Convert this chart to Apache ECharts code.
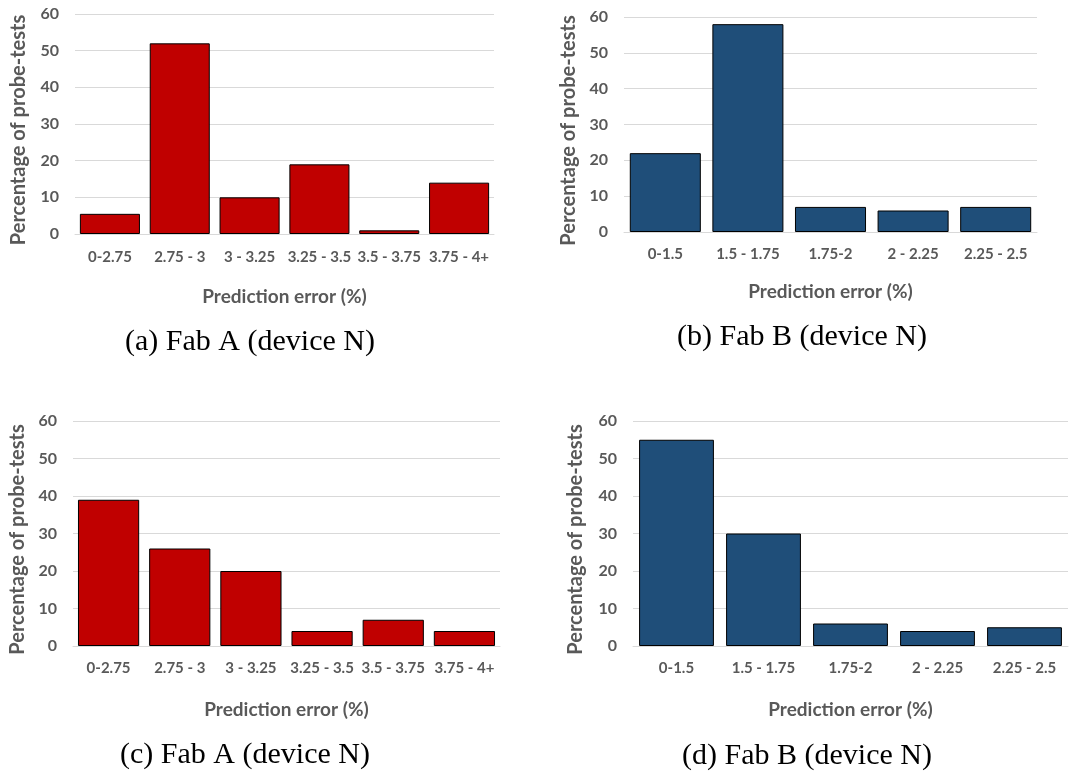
<!DOCTYPE html>
<html>
<head>
<meta charset="utf-8">
<script src="https://cdn.jsdelivr.net/npm/echarts@6/dist/echarts.min.js"></script>
<style>
html,body{margin:0;padding:0;background:#fff;}
#c{width:1073px;height:774px;}
</style>
</head>
<body>
<div id="c"></div>
<script>
// ---- data ----
const catsA = ['0-2.75', '2.75 - 3', '3 - 3.25', '3.25 - 3.5', '3.5 - 3.75', '3.75 - 4+'];
const catsB = ['0-1.5', '1.5 - 1.75', '1.75-2', '2 - 2.25', '2.25 - 2.5'];
const valsA1 = [5.5, 52, 10, 19, 1, 14];
const valsB1 = [22, 58, 7, 6, 7];
const valsA2 = [39, 26, 20, 4, 7, 4];
const valsB2 = [55, 30, 6, 4, 5];
const yTicks = [0, 10, 20, 30, 40, 50, 60];
const xTitle = 'Prediction error (%)';
const yTitle = 'Percentage of probe-tests';
const captions = ['(a) Fab A (device N)', '(b) Fab B (device N)', '(c) Fab A (device N)', '(d) Fab B (device N)'];

const RED = '#C00000', BLUE = '#1F4E79';
const TXT = '#595959';
const FONT = 'Lato';

const panels = [
  {grid:{left:75, top:14, width:419, height:220}, cats:catsA, vals:valsA1, color:RED, lm:16, ng:53, yng:46, cap:[250,342]},
  {grid:{left:624, top:17, width:413, height:215}, cats:catsB, vals:valsB1, color:BLUE, lm:15, ng:50, yng:45, cap:[802,337]},
  {grid:{left:73, top:421, width:427, height:225}, cats:catsA, vals:valsA2, color:RED, lm:15, ng:54, yng:45, cap:[245,755]},
  {grid:{left:633, top:421, width:435, height:225}, cats:catsB, vals:valsB2, color:BLUE, lm:15, ng:54, yng:47, cap:[807,756]}
];

const chart = echarts.init(document.getElementById('c'));
const option = {
  animation:false,
  backgroundColor:'#fff',
  grid: panels.map(p => Object.assign({containLabel:false}, p.grid)),
  xAxis: panels.map((p,i) => ({
    type:'category', gridIndex:i, data:p.cats,
    axisLine:{show:true, lineStyle:{color:'#D9D9D9', width:1}},
    axisTick:{show:false},
    axisLabel:{color:TXT, fontFamily:FONT, fontWeight:'bold', fontSize:15, margin:p.lm, interval:0},
    name:xTitle, nameLocation:'middle', nameGap:p.ng,
    nameTextStyle:{color:TXT, fontFamily:FONT, fontWeight:'bold', fontSize:19}
  })),
  yAxis: panels.map((p,i) => ({
    type:'value', gridIndex:i, min:yTicks[0], max:yTicks[yTicks.length-1], interval:10,
    axisLine:{show:false}, axisTick:{show:false},
    splitLine:{show:true, lineStyle:{color:'#D9D9D9', width:1}},
    axisLabel:{color:TXT, fontFamily:FONT, fontWeight:'bold', fontSize:16, margin:16},
    name:yTitle, nameLocation:'middle', nameGap:p.yng,
    nameTextStyle:{color:TXT, fontFamily:FONT, fontWeight:'bold', fontSize:20, padding:[0,12,0,0]}
  })),
  series: panels.map((p,i) => ({
    type:'bar', xAxisIndex:i, yAxisIndex:i, data:p.vals,
    barCategoryGap:'14%',
    itemStyle:{color:p.color, borderColor:'#000', borderWidth:1}
  })),
  graphic: panels.map((p,i) => ({
    type:'text', x:p.cap[0], y:p.cap[1],
    style:{text:captions[i], font:'30px "Liberation Serif"', fill:'#000', align:'center', verticalAlign:'middle'}
  }))
};
chart.setOption(option);
</script>
</body>
</html>
